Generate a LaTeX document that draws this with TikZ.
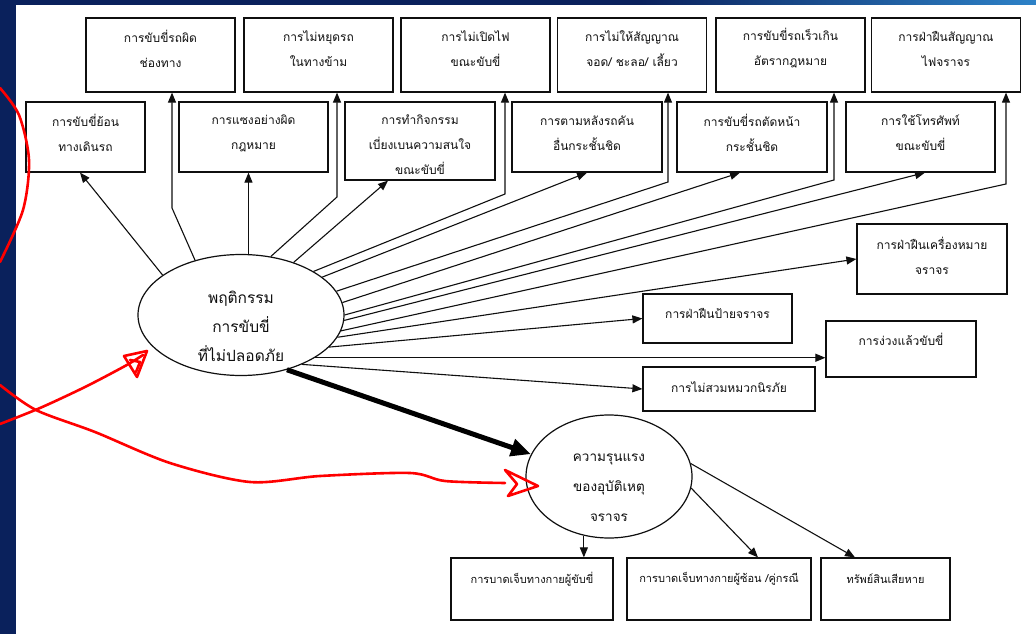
\documentclass[tikz,border=0pt]{standalone}
\usepackage{fontspec}
\newfontfamily\thaifont[Script=Thai]{Loma}
\usetikzlibrary{arrows.meta,calc,shapes.geometric}
\definecolor{navy}{RGB}{10,33,92}
\definecolor{skyb}{RGB}{45,130,200}
\definecolor{ink}{RGB}{15,15,15}
\definecolor{pen}{RGB}{255,0,0}
\newcommand{\boxfont}{\thaifont\fontsize{12}{25}\selectfont}
\newcommand{\lowfont}{\thaifont\fontsize{11}{25}\selectfont}
\newcommand{\bigfont}{\thaifont\fontsize{15.5}{29}\selectfont}
\newcommand{\midfont}{\thaifont\fontsize{13.5}{30}\selectfont}
\begin{document}
\begin{tikzpicture}[x=1pt,y=-1pt,
  box/.style={draw=ink, line width=1.2pt, fill=white, inner sep=0pt},
  wideb/.style={box, minimum width=149pt, minimum height=74pt},
  rowb/.style={box, minimum width=149pt, minimum height=70pt},
  txt/.style={font=\boxfont, align=center, text=ink, inner sep=0pt},
  oval/.style={draw=ink, line width=1.2pt, ellipse, inner sep=0pt},
  arr/.style={draw=ink, line width=1.1pt, -{Triangle[length=10pt,width=8pt]}},
  fat/.style={draw=black, line width=5pt, -{Triangle[length=20pt,width=17pt]}},
  redpen/.style={draw=pen, line width=2.6pt, line cap=round, line join=round}
]
\useasboundingbox (0,0) rectangle (1036,634);
% background
\fill[navy] (0,0) rectangle (1036,634);
\shade[left color=navy, right color=skyb] (640,0) rectangle (1036,6);
\fill[white] (16,5) rectangle (1036,634);

% top row boxes
\node[wideb] (B1) at (160.5,55) {};
\node[wideb] (B2) at (318.5,55) {};
\node[wideb] (B3) at (475.5,55) {};
\node[wideb] (B4) at (632,55) {};
\node[wideb] (B5) at (790.5,55) {};
\node[wideb] (B6) at (946,55) {};
\node[txt] (B1t) at ([yshift=6.5pt]B1.center) {การขับขี่รถผิด\\ช่องทาง};
\node[txt] (B2t) at ([yshift=6.5pt]B2.center) {การไม่หยุดรถ\\ในทางข้าม};
\node[txt] (B3t) at ([yshift=6.5pt]B3.center) {การไม่เปิดไฟ\\ขณะขับขี่};
\node[txt] (B4t) at ([yshift=6.5pt]B4.center) {การไม่ให้สัญญาณ\\จอด/ ชะลอ/ เลี้ยว};
\node[txt] (B5t) at ([yshift=6.5pt]B5.center) {การขับขี่รถเร็วเกิน\\อัตรากฎหมาย};
\node[txt] (B6t) at ([yshift=6.5pt]B6.center) {การฝ่าฝืนสัญญาณ\\ไฟจราจร};

% second row boxes
\node[rowb, minimum width=119pt] (C1) at (85.5,137) {};
\node[rowb] (C2) at (253.5,137) {};
\node[rowb, minimum width=150pt, minimum height=78pt] (C3) at (420,141) {};
\node[rowb, minimum width=150pt] (C4) at (587,137) {};
\node[rowb, minimum width=150pt] (C5) at (752,137) {};
\node[rowb] (C6) at (920.5,137) {};
\node[txt] (C1t) at ([yshift=4pt]C1.center) {การขับขี่ย้อน\\ทางเดินรถ};
\node[txt] (C2t) at ([yshift=4pt]C2.center) {การแซงอย่างผิด\\กฎหมาย};
\node[txt] (C3t) at ([yshift=-3.5pt]C3.center) {การทำกิจกรรม\\เบี่ยงเบนความสนใจ\\ขณะขับขี่};
\node[txt] (C4t) at ([yshift=4pt]C4.center) {การตามหลังรถคัน\\อื่นกระชั้นชิด};
\node[txt] (C5t) at ([yshift=4pt]C5.center) {การขับขี่รถตัดหน้า\\กระชั้นชิด};
\node[txt] (C6t) at ([yshift=4pt]C6.center) {การใช้โทรศัพท์\\ขณะขับขี่};

% right boxes
\node[box, minimum width=150pt, minimum height=70pt] (D1) at (932,259) {};
\node[box, minimum width=149pt, minimum height=49pt] (D2) at (717.5,318.5) {};
\node[box, minimum width=150pt, minimum height=56pt] (D3) at (901,349) {};
\node[box, minimum width=172pt, minimum height=44pt] (D4) at (729,389) {};
\node[txt] (D1t) at ([yshift=3.5pt]D1.center) {การฝ่าฝืนเครื่องหมาย\\จราจร};
\node[txt] (D2t) at ([yshift=5pt]D2.center) {การฝ่าฝืนป้ายจราจร};
\node[txt] (D3t) at ([yshift=10pt]D3.center) {การง่วงแล้วขับขี่};
\node[txt] (D4t) at ([yshift=2pt]D4.center) {การไม่สวมหมวกนิรภัย};

% bottom boxes
\node[box, minimum width=162pt, minimum height=62pt] (E1) at (532,589) {};
\node[box, minimum width=184pt, minimum height=62pt] (E2) at (719,589) {};
\node[box, minimum width=129pt, minimum height=62pt] (E3) at (885.5,589) {};
\node[txt, font=\lowfont] (E1t) at ([yshift=10pt]E1.center) {การบาดเจ็บทางกายผู้ขับขี่};
\node[txt, font=\lowfont] (E2t) at ([yshift=10pt]E2.center) {การบาดเจ็บทางกายผู้ซ้อน /คู่กรณี};
\node[txt, font=\lowfont] (E3t) at ([yshift=10pt]E3.center) {ทรัพย์สินเสียหาย};

% ellipses
\node[oval, minimum width=206pt, minimum height=121pt] (M) at (241,315) {};
\node[txt, font=\bigfont] (Mt) at (241,326) {พฤติกรรม\\การขับขี่\\ที่ไม่ปลอดภัย};
\node[oval, minimum width=166pt, minimum height=123pt] (S) at (609,476.5) {};
\node[txt, font=\midfont] (St) at (609,488) {ความรุนแรง\\ของอุบัติเหตุ\\จราจร};

% bend points
\coordinate (k1) at (172,208);
\coordinate (k2) at (337,197);
\coordinate (k3) at (505,194);
\coordinate (k4) at (668,182);
\coordinate (k5) at (834,180);
\coordinate (k6) at (1006,184);
\coordinate (mc2) at (M.83);
\coordinate (md3) at (M.-30.7);
\coordinate (se1) at (S.-113);

% connectors from main ellipse
\draw[arr] (M.153) -- ([xshift=-5.5pt]C1.south);
\draw[arr] (M.130) -- (k1) -- (k1 |- B1.south);
\draw[arr] (mc2) -- (mc2 |- C2.south);
\draw[arr] (M.63.4) -- (k2) -- (k2 |- B2.south);
\draw[arr] (M.45) -- ([xshift=-32pt]C3.south);
\draw[arr] (M.31.9) -- (k3) -- (k3 |- B3.south);
\draw[arr] (M.25.4) -- (C4.south);
\draw[arr] (M.14.9) -- (k4) -- (k4 |- B4.south);
\draw[arr] (M.7.4) -- ([xshift=-12pt]C5.south);
\draw[arr] (M.0.6) -- (k5) -- (k5 |- B5.south);
\draw[arr] (M.-3.9) -- ([xshift=4.5pt]C6.south);
\draw[arr] (M.-9.2) -- (k6) -- (k6 |- B6.south);
\draw[arr] (M.-13.6) -- (D1.west);
\draw[arr] (M.-20.1) -- (D2.west);
\draw[arr] (md3) -- (md3 -| D3.west);
\draw[arr] (M.-39) -- (D4.west);

% thick arrow
\draw[fat] (M.-50.6) -- (S.164.6);

% from second ellipse
\draw[arr] (se1) -- (se1 |- E1.north);
\draw[arr] (S.-8) -- ([xshift=39pt]E2.north);
\draw[arr] (S.9.5) -- ([xshift=-30.5pt]E3.north);

% red hand annotations
\draw[redpen] plot[smooth] coordinates {(0,88) (19,115) (29,160) (23,210) (0,262)};
\draw[redpen] plot[smooth] coordinates {(0,424) (40,408) (85,387) (125,366) (143,355)};
\draw[redpen] (124,356) -- (147,351) -- (137,377) -- cycle;
\draw[redpen] (130,360) -- (140,362) -- (136,372);
\draw[redpen] plot[smooth] coordinates {(0,385) (36,410) (95,432) (170,463) (250,482) (320,476) (410,473) (445,481) (505,483)};
\draw[redpen] (505,470) -- (538,486) -- (508,496) -- (517,484) -- cycle;
\end{tikzpicture}
\end{document}
